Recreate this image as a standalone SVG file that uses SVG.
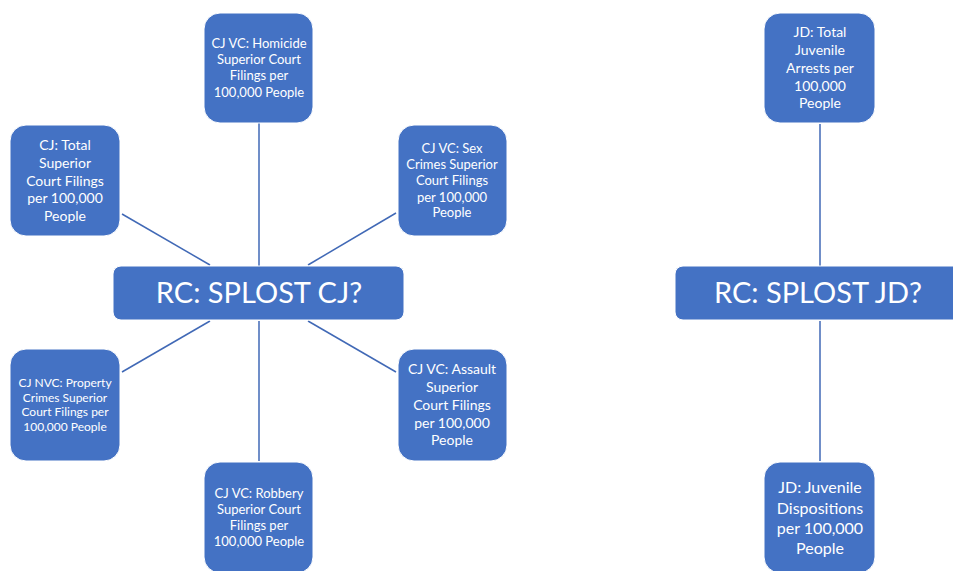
<svg xmlns="http://www.w3.org/2000/svg" width="953" height="571" viewBox="0 0 953 571">
<style>
.box{fill:#4472C4;stroke:#ffffff;stroke-width:1}
.t{fill:#ffffff;font-family:Lato,"Liberation Sans",sans-serif;text-anchor:middle}
.s12{font-size:12px}
.s13{font-size:13px}
.s14{font-size:14px}
.s16{font-size:16px}
.big{font-size:29px}
.c{stroke:#4169B6;stroke-width:1.5;fill:none}
</style>
<rect width="953" height="571" fill="#ffffff"/>
<g id="connectors">
<line class="c" x1="259" y1="123" x2="259" y2="266"/>
<line class="c" x1="122" y1="214" x2="210" y2="265"/>
<line class="c" x1="396" y1="213" x2="308" y2="265"/>
<line class="c" x1="210" y1="321" x2="122" y2="372"/>
<line class="c" x1="308" y1="321" x2="396" y2="372"/>
<line class="c" x1="259" y1="321" x2="259" y2="461"/>
<line class="c" x1="820" y1="124" x2="820" y2="266"/>
<line class="c" x1="820" y1="321" x2="820" y2="461"/>
</g>
<g id="rc-cj">
<rect class="box" x="113" y="266" width="291" height="54" rx="8"/>
<text class="t big" x="259" y="303">RC: SPLOST CJ?</text>
</g>
<g id="homicide">
<rect class="box" x="204" y="13" width="109" height="110" rx="16"/>
<text class="t s13" x="259" y="48">CJ VC: Homicide</text>
<text class="t s13" x="259" y="64">Superior Court</text>
<text class="t s13" x="259" y="80">Filings per</text>
<text class="t s13" x="259" y="97">100,000 People</text>
</g>
<g id="cj-total">
<rect class="box" x="10" y="125" width="110" height="111" rx="16"/>
<text class="t s14" x="65" y="150">CJ: Total</text>
<text class="t s14" x="65" y="168">Superior</text>
<text class="t s14" x="65" y="186">Court Filings</text>
<text class="t s14" x="65" y="203">per 100,000</text>
<text class="t s14" x="65" y="221">People</text>
</g>
<g id="sex-crimes">
<rect class="box" x="398" y="125" width="109" height="111" rx="16"/>
<text class="t s13" x="452" y="153">CJ VC: Sex</text>
<text class="t s13" x="452" y="169">Crimes Superior</text>
<text class="t s13" x="452" y="185">Court Filings</text>
<text class="t s13" x="452" y="202">per 100,000</text>
<text class="t s13" x="452" y="217">People</text>
</g>
<g id="property">
<rect class="box" x="10" y="349" width="110" height="112" rx="16"/>
<text class="t s12" x="65" y="387">CJ NVC: Property</text>
<text class="t s12" x="65" y="402">Crimes Superior</text>
<text class="t s12" x="65" y="416">Court Filings per</text>
<text class="t s12" x="65" y="431">100,000 People</text>
</g>
<g id="assault">
<rect class="box" x="398" y="349" width="109" height="112" rx="16"/>
<text class="t s14" x="452" y="374">CJ VC: Assault</text>
<text class="t s14" x="452" y="392">Superior</text>
<text class="t s14" x="452" y="410">Court Filings</text>
<text class="t s14" x="452" y="428">per 100,000</text>
<text class="t s14" x="452" y="445">People</text>
</g>
<g id="robbery">
<rect class="box" x="204" y="462" width="109" height="111" rx="16"/>
<text class="t s13" x="259" y="498">CJ VC: Robbery</text>
<text class="t s13" x="259" y="514">Superior Court</text>
<text class="t s13" x="259" y="530">Filings per</text>
<text class="t s13" x="259" y="546">100,000 People</text>
</g>
<g id="rc-jd">
<rect class="box" x="675" y="266" width="290" height="54" rx="8"/>
<text class="t big" x="818" y="303">RC: SPLOST JD?</text>
</g>
<g id="jd-arrests">
<rect class="box" x="764" y="13" width="111" height="110" rx="16"/>
<text class="t s14" x="820" y="37">JD: Total</text>
<text class="t s14" x="820" y="55">Juvenile</text>
<text class="t s14" x="820" y="73">Arrests per</text>
<text class="t s14" x="820" y="91">100,000</text>
<text class="t s14" x="820" y="108">People</text>
</g>
<g id="jd-dispositions">
<rect class="box" x="764" y="462" width="111" height="111" rx="16"/>
<text class="t s16" x="820" y="493">JD: Juvenile</text>
<text class="t s16" x="820" y="514">Dispositions</text>
<text class="t s16" x="820" y="534">per 100,000</text>
<text class="t s16" x="820" y="554">People</text>
</g>
</svg>
